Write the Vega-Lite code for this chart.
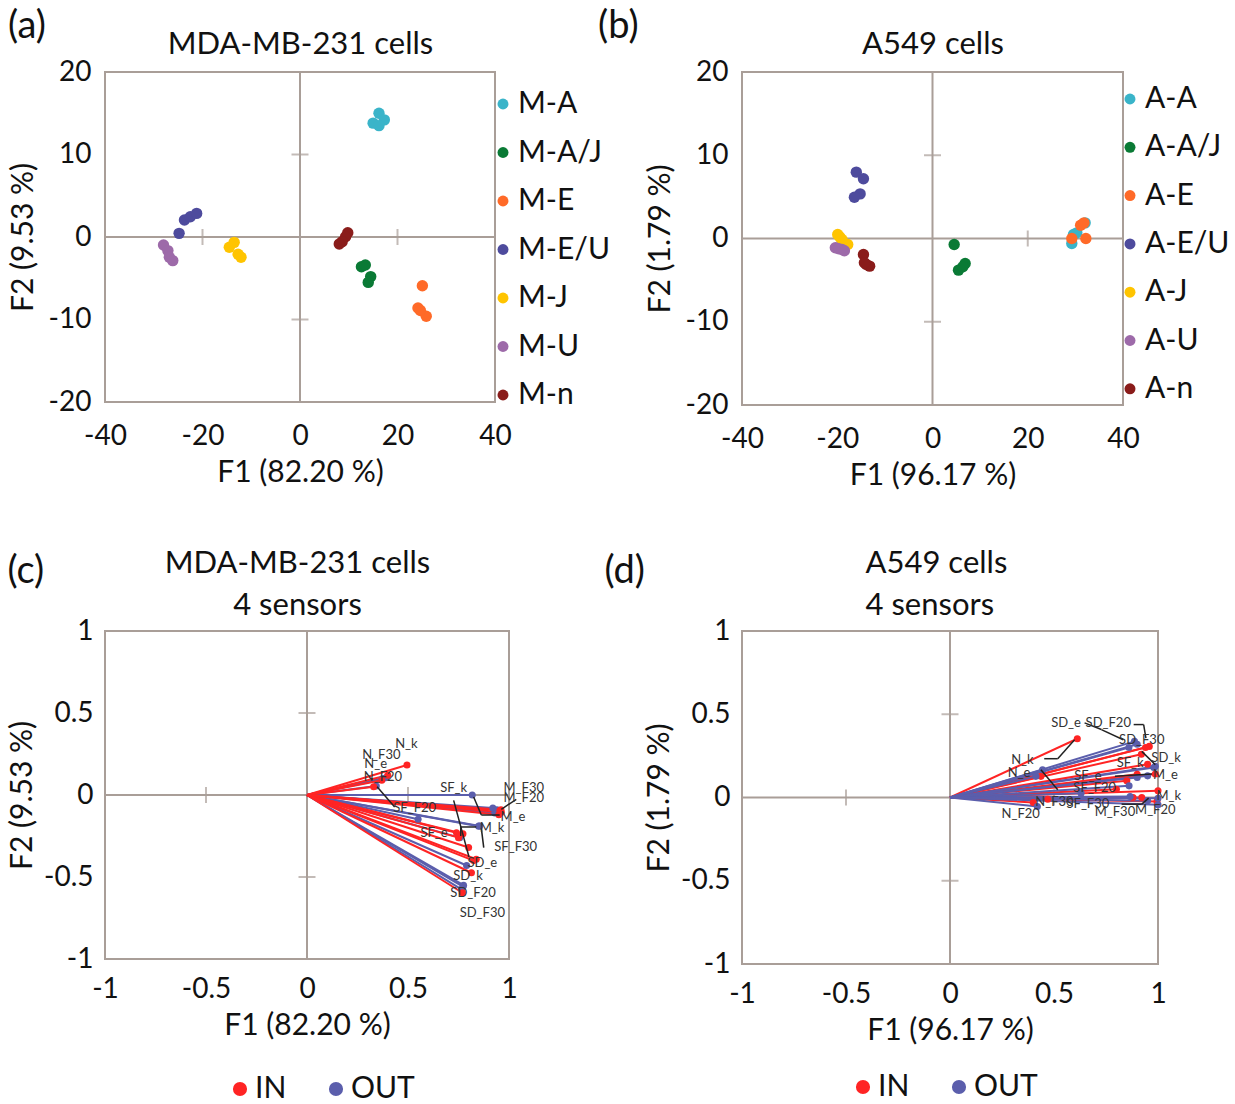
{
  "$schema": "https://vega.github.io/schema/vega-lite/v6.json",
  "background": "white",
  "padding": {"left": 6, "top": 7, "right": 0, "bottom": 0},
  "config": {
    "font": "Lato",
    "view": {"stroke": "#a99e98", "strokeWidth": 2},
    "axis": {"grid": false, "domain": false, "ticks": false, "labelFontSize": 28, "labelColor": "#111", "titleFontSize": 30, "titleFontWeight": "normal", "titleColor": "#111", "labelFlush": false, "labelOverlap": false},
    "title": {"fontSize": 38, "fontWeight": "normal", "anchor": "start", "frame": "bounds", "color": "#111"},
    "legend": {"labelFontSize": 30, "labelColor": "#111", "symbolType": "circle", "padding": 0}
  },
  "datasets": {
    "a": [
      {"group": "M-A", "F1": 16.2, "F2": 15.0}, {"group": "M-A", "F1": 17.3, "F2": 14.2}, {"group": "M-A", "F1": 15.0, "F2": 13.8}, {"group": "M-A", "F1": 16.2, "F2": 13.5},
      {"group": "M-A/J", "F1": 12.6, "F2": -3.6}, {"group": "M-A/J", "F1": 13.4, "F2": -3.4}, {"group": "M-A/J", "F1": 14.5, "F2": -4.8}, {"group": "M-A/J", "F1": 14.0, "F2": -5.5},
      {"group": "M-E", "F1": 25.1, "F2": -5.9}, {"group": "M-E", "F1": 24.2, "F2": -8.6}, {"group": "M-E", "F1": 25.9, "F2": -9.6}, {"group": "M-E", "F1": 24.7, "F2": -8.9},
      {"group": "M-E/U", "F1": -24.8, "F2": 0.44}, {"group": "M-E/U", "F1": -23.7, "F2": 2.06}, {"group": "M-E/U", "F1": -22.5, "F2": 2.46}, {"group": "M-E/U", "F1": -21.2, "F2": 2.86},
      {"group": "M-J", "F1": -13.5, "F2": -0.65}, {"group": "M-J", "F1": -14.5, "F2": -1.25}, {"group": "M-J", "F1": -12.7, "F2": -2.1}, {"group": "M-J", "F1": -12.1, "F2": -2.46},
      {"group": "M-U", "F1": -28.0, "F2": -0.97}, {"group": "M-U", "F1": -27.1, "F2": -1.65}, {"group": "M-U", "F1": -26.8, "F2": -2.46}, {"group": "M-U", "F1": -26.1, "F2": -2.86},
      {"group": "M-n", "F1": 9.8, "F2": 0.52}, {"group": "M-n", "F1": 9.35, "F2": 0.04}, {"group": "M-n", "F1": 8.66, "F2": -0.56}, {"group": "M-n", "F1": 8.05, "F2": -0.85}
    ],
    "b": [
      {"group": "A-A", "F1": 32.05, "F2": 1.88}, {"group": "A-A", "F1": 29.6, "F2": 0.48}, {"group": "A-A", "F1": 29.25, "F2": -0.6}, {"group": "A-A", "F1": 30.3, "F2": 0.68},
      {"group": "A-A/J", "F1": 4.55, "F2": -0.72}, {"group": "A-A/J", "F1": 6.86, "F2": -3.0}, {"group": "A-A/J", "F1": 5.46, "F2": -3.8}, {"group": "A-A/J", "F1": 6.37, "F2": -3.4},
      {"group": "A-E", "F1": 31.1, "F2": 1.6}, {"group": "A-E", "F1": 31.8, "F2": 1.88}, {"group": "A-E", "F1": 32.2, "F2": 0.0}, {"group": "A-E", "F1": 29.25, "F2": 0.0},
      {"group": "A-E/U", "F1": -16.0, "F2": 7.97}, {"group": "A-E/U", "F1": -14.5, "F2": 7.17}, {"group": "A-E/U", "F1": -15.2, "F2": 5.36}, {"group": "A-E/U", "F1": -16.4, "F2": 4.96},
      {"group": "A-J", "F1": -19.9, "F2": 0.48}, {"group": "A-J", "F1": -17.8, "F2": -0.72}, {"group": "A-J", "F1": -19.0, "F2": -0.12}, {"group": "A-J", "F1": -19.5, "F2": 0.2},
      {"group": "A-U", "F1": -20.4, "F2": -1.12}, {"group": "A-U", "F1": -19.0, "F2": -1.32}, {"group": "A-U", "F1": -19.7, "F2": -1.24}, {"group": "A-U", "F1": -18.5, "F2": -1.48},
      {"group": "A-n", "F1": -14.5, "F2": -1.92}, {"group": "A-n", "F1": -13.9, "F2": -3.12}, {"group": "A-n", "F1": -13.2, "F2": -3.32}, {"group": "A-n", "F1": -14.3, "F2": -2.92}
    ],
    "cvec": [
      {"set": "OUT", "var": "N_k", "F1": 0.39, "F2": 0.105}, {"set": "OUT", "var": "N_e", "F1": 0.376, "F2": 0.1}, {"set": "OUT", "var": "N_F20", "F1": 0.343, "F2": 0.055}, {"set": "OUT", "var": "N_F30", "F1": 0.37, "F2": 0.095},
      {"set": "OUT", "var": "SF_k", "F1": 0.818, "F2": 0.0}, {"set": "OUT", "var": "SF_e", "F1": 0.756, "F2": -0.26}, {"set": "OUT", "var": "SF_F20", "F1": 0.55, "F2": -0.148}, {"set": "OUT", "var": "SF_F30", "F1": 0.85, "F2": -0.19},
      {"set": "OUT", "var": "SD_k", "F1": 0.775, "F2": -0.55}, {"set": "OUT", "var": "SD_e", "F1": 0.79, "F2": -0.43}, {"set": "OUT", "var": "SD_F20", "F1": 0.772, "F2": -0.559}, {"set": "OUT", "var": "SD_F30", "F1": 0.765, "F2": -0.575},
      {"set": "OUT", "var": "M_k", "F1": 0.855, "F2": -0.189}, {"set": "OUT", "var": "M_e", "F1": 0.93, "F2": -0.11}, {"set": "OUT", "var": "M_F20", "F1": 0.92, "F2": -0.08}, {"set": "OUT", "var": "M_F30", "F1": 0.94, "F2": -0.09},
      {"set": "IN", "var": "N_k", "F1": 0.495, "F2": 0.183}, {"set": "IN", "var": "N_e", "F1": 0.37, "F2": 0.09}, {"set": "IN", "var": "N_F20", "F1": 0.33, "F2": 0.05}, {"set": "IN", "var": "N_F30", "F1": 0.4, "F2": 0.12},
      {"set": "IN", "var": "SF_k", "F1": 0.74, "F2": -0.23}, {"set": "IN", "var": "SF_e", "F1": 0.772, "F2": -0.236}, {"set": "IN", "var": "SF_F20", "F1": 0.75, "F2": -0.26}, {"set": "IN", "var": "SF_F30", "F1": 0.8, "F2": -0.32},
      {"set": "IN", "var": "SD_k", "F1": 0.814, "F2": -0.474}, {"set": "IN", "var": "SD_e", "F1": 0.838, "F2": -0.392}, {"set": "IN", "var": "SD_F20", "F1": 0.769, "F2": -0.596}, {"set": "IN", "var": "SD_F30", "F1": 0.825, "F2": -0.4},
      {"set": "IN", "var": "M_k", "F1": 0.95, "F2": -0.12}, {"set": "IN", "var": "M_e", "F1": 0.962, "F2": -0.105}, {"set": "IN", "var": "M_F20", "F1": 0.955, "F2": -0.095}, {"set": "IN", "var": "M_F30", "F1": 0.96, "F2": -0.09}
    ],
    "clab": [
      {"label": "N_k", "F1": 0.492, "F2": 0.313}, {"label": "N_F30", "F1": 0.368, "F2": 0.242}, {"label": "N_e", "F1": 0.34, "F2": 0.191}, {"label": "N_F20", "F1": 0.376, "F2": 0.11},
      {"label": "SF_k", "F1": 0.726, "F2": 0.045}, {"label": "M_F30", "F1": 1.073, "F2": 0.045}, {"label": "M_F20", "F1": 1.073, "F2": -0.02}, {"label": "SF_F20", "F1": 0.533, "F2": -0.081},
      {"label": "M_e", "F1": 1.02, "F2": -0.132}, {"label": "M_k", "F1": 0.916, "F2": -0.199}, {"label": "SF_e", "F1": 0.629, "F2": -0.234}, {"label": "SF_F30", "F1": 1.033, "F2": -0.315},
      {"label": "SD_e", "F1": 0.868, "F2": -0.413}, {"label": "SD_k", "F1": 0.797, "F2": -0.494}, {"label": "SD_F20", "F1": 0.822, "F2": -0.596}, {"label": "SD_F30", "F1": 0.868, "F2": -0.717}
    ],
    "cldr": [
      {"x1": 0.347, "y1": 0.051, "x2": 0.434, "y2": -0.073},
      {"x1": 0.726, "y1": -0.033, "x2": 0.802, "y2": -0.378},
      {"x1": 0.761, "y1": -0.195, "x2": 0.838, "y2": -0.195},
      {"x1": 0.761, "y1": -0.195, "x2": 0.761, "y2": -0.25},
      {"x1": 0.863, "y1": -0.203, "x2": 0.875, "y2": -0.321},
      {"x1": 0.825, "y1": -0.012, "x2": 0.863, "y2": -0.122},
      {"x1": 0.863, "y1": -0.122, "x2": 0.954, "y2": -0.122},
      {"x1": 0.962, "y1": -0.087, "x2": 1.036, "y2": -0.026}
    ],
    "dvec": [
      {"set": "IN", "var": "N_k", "F1": 0.612, "F2": 0.353}, {"set": "IN", "var": "N_e", "F1": 0.437, "F2": 0.127}, {"set": "IN", "var": "N_F20", "F1": 0.4, "F2": -0.03}, {"set": "IN", "var": "N_F30", "F1": 0.47, "F2": -0.01},
      {"set": "IN", "var": "SF_k", "F1": 0.9, "F2": 0.14}, {"set": "IN", "var": "SF_e", "F1": 0.85, "F2": 0.1}, {"set": "IN", "var": "SF_F20", "F1": 0.8, "F2": 0.05}, {"set": "IN", "var": "SF_F30", "F1": 0.88, "F2": 0.0},
      {"set": "IN", "var": "SD_k", "F1": 0.95, "F2": 0.2}, {"set": "IN", "var": "SD_e", "F1": 0.958, "F2": 0.307}, {"set": "IN", "var": "SD_F20", "F1": 0.92, "F2": 0.26}, {"set": "IN", "var": "SD_F30", "F1": 0.94, "F2": 0.3},
      {"set": "IN", "var": "M_k", "F1": 1.0, "F2": 0.04}, {"set": "IN", "var": "M_e", "F1": 0.987, "F2": 0.141}, {"set": "IN", "var": "M_F20", "F1": 0.995, "F2": -0.024}, {"set": "IN", "var": "M_F30", "F1": 0.922, "F2": 0.0},
      {"set": "OUT", "var": "N_k", "F1": 0.445, "F2": 0.167}, {"set": "OUT", "var": "N_e", "F1": 0.413, "F2": 0.127}, {"set": "OUT", "var": "N_F20", "F1": 0.42, "F2": -0.054}, {"set": "OUT", "var": "N_F30", "F1": 0.63, "F2": 0.026},
      {"set": "OUT", "var": "SF_k", "F1": 0.987, "F2": 0.187}, {"set": "OUT", "var": "SF_e", "F1": 0.9, "F2": 0.12}, {"set": "OUT", "var": "SF_F20", "F1": 0.861, "F2": 0.07}, {"set": "OUT", "var": "SF_F30", "F1": 0.866, "F2": 0.006},
      {"set": "OUT", "var": "SD_k", "F1": 0.98, "F2": 0.18}, {"set": "OUT", "var": "SD_e", "F1": 0.86, "F2": 0.3}, {"set": "OUT", "var": "SD_F20", "F1": 0.887, "F2": 0.337}, {"set": "OUT", "var": "SD_F30", "F1": 0.9, "F2": 0.32},
      {"set": "OUT", "var": "M_k", "F1": 1.0, "F2": -0.004}, {"set": "OUT", "var": "M_e", "F1": 0.95, "F2": 0.13}, {"set": "OUT", "var": "M_F20", "F1": 1.0, "F2": -0.044}, {"set": "OUT", "var": "M_F30", "F1": 0.95, "F2": -0.02}
    ],
    "dlab": [
      {"label": "SD_e", "F1": 0.558, "F2": 0.448}, {"label": "SD_F20", "F1": 0.761, "F2": 0.448}, {"label": "SD_F30", "F1": 0.922, "F2": 0.343}, {"label": "N_k", "F1": 0.348, "F2": 0.227},
      {"label": "SF_k", "F1": 0.866, "F2": 0.207}, {"label": "SD_k", "F1": 1.039, "F2": 0.237}, {"label": "N_e", "F1": 0.332, "F2": 0.147}, {"label": "SF_e", "F1": 0.663, "F2": 0.127},
      {"label": "M_e", "F1": 1.036, "F2": 0.137}, {"label": "SF_F20", "F1": 0.696, "F2": 0.06}, {"label": "M_k", "F1": 1.052, "F2": 0.012}, {"label": "N_F30", "F1": 0.502, "F2": -0.028},
      {"label": "SF_F30", "F1": 0.663, "F2": -0.04}, {"label": "M_F30", "F1": 0.793, "F2": -0.088}, {"label": "M_F20", "F1": 0.987, "F2": -0.074}, {"label": "N_F20", "F1": 0.34, "F2": -0.1}
    ],
    "dldr": [
      {"x1": 0.647, "y1": 0.448, "x2": 0.728, "y2": 0.408},
      {"x1": 0.728, "y1": 0.408, "x2": 0.833, "y2": 0.347},
      {"x1": 0.883, "y1": 0.438, "x2": 0.931, "y2": 0.438},
      {"x1": 0.931, "y1": 0.438, "x2": 0.942, "y2": 0.357},
      {"x1": 0.453, "y1": 0.233, "x2": 0.518, "y2": 0.233},
      {"x1": 0.518, "y1": 0.233, "x2": 0.599, "y2": 0.347},
      {"x1": 0.437, "y1": 0.167, "x2": 0.518, "y2": 0.046},
      {"x1": 0.922, "y1": 0.277, "x2": 0.987, "y2": 0.197},
      {"x1": 0.793, "y1": 0.127, "x2": 0.971, "y2": 0.141},
      {"x1": 0.825, "y1": -0.04, "x2": 0.922, "y2": -0.04},
      {"x1": 0.922, "y1": -0.04, "x2": 0.955, "y2": -0.004}
    ]
  },
  "columns": 2,
  "align": "each",
  "bounds": "flush",
  "spacing": {"row": 226, "column": 233},
  "resolve": {"scale": {"color": "independent", "stroke": "independent"}, "legend": {"color": "independent", "stroke": "independent"}},
  "concat": [
    {
      "width": 390, "height": 330,
      "title": {"text": "(a)", "dy": 22},
      "resolve": {"axis": {"x": "independent", "y": "independent"}},
      "layer": [
        {"data": {"values": [{"z": 0}]}, "mark": {"type": "rule", "color": "#a99e98", "strokeWidth": 2},
         "encoding": {"x": {"field": "z", "type": "quantitative", "scale": {"domain": [-40, 40]}, "axis": {"title": "F1 (82.20 %)", "values": [-40, -20, 0, 20, 40], "labelExpr": "'' + datum.value", "labelPadding": 20, "titlePadding": 7}}}},
        {"data": {"values": [{"z": 0}]}, "mark": {"type": "rule", "color": "#a99e98", "strokeWidth": 2},
         "encoding": {"y": {"field": "z", "type": "quantitative", "scale": {"domain": [-20, 20]}, "axis": {"title": "F2 (9.53 %)", "values": [-20, -10, 0, 10, 20], "labelExpr": "'' + datum.value", "labelPadding": 14, "titlePadding": 10}}}},
        {"data": {"values": [{"v": -20, "z": 0}, {"v": 20, "z": 0}]}, "mark": {"type": "tick", "orient": "vertical", "color": "#a99e98", "size": 16, "thickness": 2},
         "encoding": {"x": {"field": "v", "type": "quantitative", "scale": {"domain": [-40, 40]}, "axis": null}, "y": {"field": "z", "type": "quantitative", "scale": {"domain": [-20, 20]}, "axis": null}}},
        {"data": {"values": [{"v": -10, "z": 0}, {"v": 10, "z": 0}]}, "mark": {"type": "tick", "orient": "horizontal", "color": "#a99e98", "size": 17, "thickness": 2},
         "encoding": {"y": {"field": "v", "type": "quantitative", "scale": {"domain": [-20, 20]}, "axis": null}, "x": {"field": "z", "type": "quantitative", "scale": {"domain": [-40, 40]}, "axis": null}}},
        {"data": {"name": "a"}, "mark": {"type": "circle", "size": 130, "opacity": 1},
         "encoding": {
           "x": {"field": "F1", "type": "quantitative", "scale": {"domain": [-40, 40]}, "axis": {"orient": "top", "title": "MDA-MB-231 cells", "labels": false, "titleFontSize": 31, "titlePadding": 12}},
           "y": {"field": "F2", "type": "quantitative", "scale": {"domain": [-20, 20]}, "axis": null},
           "color": {"field": "group", "type": "nominal",
             "scale": {"domain": ["M-A", "M-A/J", "M-E", "M-E/U", "M-J", "M-U", "M-n"], "range": ["#3ab4c9", "#0a7a35", "#ff6a28", "#4e4b9d", "#ffc400", "#9d6aa9", "#8a1c1a"]},
             "legend": {"title": null, "orient": "none", "legendX": 383, "legendY": 17, "symbolSize": 120, "rowPadding": 18.5, "labelOffset": 0}}
         }}
      ]
    },
    {
      "width": 381, "height": 333,
      "title": {"text": "(b)", "dy": 22, "dx": -47},
      "resolve": {"axis": {"x": "independent", "y": "independent"}},
      "layer": [
        {"data": {"values": [{"z": 0}]}, "mark": {"type": "rule", "color": "#a99e98", "strokeWidth": 2},
         "encoding": {"x": {"field": "z", "type": "quantitative", "scale": {"domain": [-40, 40]}, "axis": {"title": "F1 (96.17 %)", "values": [-40, -20, 0, 20, 40], "labelExpr": "'' + datum.value", "labelPadding": 20, "titlePadding": 7}}}},
        {"data": {"values": [{"z": 0}]}, "mark": {"type": "rule", "color": "#a99e98", "strokeWidth": 2},
         "encoding": {"y": {"field": "z", "type": "quantitative", "scale": {"domain": [-20, 20]}, "axis": {"title": "F2 (1.79 %)", "values": [-20, -10, 0, 10, 20], "labelExpr": "'' + datum.value", "labelPadding": 14, "titlePadding": 10}}}},
        {"data": {"values": [{"v": -20, "z": 0}, {"v": 20, "z": 0}]}, "mark": {"type": "tick", "orient": "vertical", "color": "#a99e98", "size": 16, "thickness": 2},
         "encoding": {"x": {"field": "v", "type": "quantitative", "scale": {"domain": [-40, 40]}, "axis": null}, "y": {"field": "z", "type": "quantitative", "scale": {"domain": [-20, 20]}, "axis": null}}},
        {"data": {"values": [{"v": -10, "z": 0}, {"v": 10, "z": 0}]}, "mark": {"type": "tick", "orient": "horizontal", "color": "#a99e98", "size": 17, "thickness": 2},
         "encoding": {"y": {"field": "v", "type": "quantitative", "scale": {"domain": [-20, 20]}, "axis": null}, "x": {"field": "z", "type": "quantitative", "scale": {"domain": [-40, 40]}, "axis": null}}},
        {"data": {"name": "b"}, "mark": {"type": "circle", "size": 130, "opacity": 1},
         "encoding": {
           "x": {"field": "F1", "type": "quantitative", "scale": {"domain": [-40, 40]}, "axis": {"orient": "top", "title": "A549 cells", "labels": false, "titleFontSize": 31, "titlePadding": 12}},
           "y": {"field": "F2", "type": "quantitative", "scale": {"domain": [-20, 20]}, "axis": null},
           "color": {"field": "group", "type": "nominal",
             "scale": {"domain": ["A-A", "A-A/J", "A-E", "A-E/U", "A-J", "A-U", "A-n"], "range": ["#3ab4c9", "#0a7a35", "#ff6a28", "#4e4b9d", "#ffc400", "#9d6aa9", "#8a1c1a"]},
             "legend": {"title": null, "orient": "none", "legendX": 373, "legendY": 12, "symbolSize": 120, "rowPadding": 18.3, "labelOffset": 0}}
         }}
      ]
    },
    {
      "width": 404, "height": 328,
      "title": {"text": "(c)", "dy": 48},
      "resolve": {"axis": {"x": "independent", "y": "independent"}},
      "layer": [
        {"data": {"values": [{"z": 0}]}, "mark": {"type": "rule", "color": "#a99e98", "strokeWidth": 2},
         "encoding": {"x": {"field": "z", "type": "quantitative", "scale": {"domain": [-1, 1]}, "axis": {"title": "F1 (82.20 %)", "values": [-1, -0.5, 0, 0.5, 1], "labelExpr": "'' + datum.value", "labelPadding": 16, "titlePadding": 7}}}},
        {"data": {"values": [{"z": 0}]}, "mark": {"type": "rule", "color": "#a99e98", "strokeWidth": 2},
         "encoding": {"y": {"field": "z", "type": "quantitative", "scale": {"domain": [-1, 1]}, "axis": {"title": "F2 (9.53 %)", "values": [-1, -0.5, 0, 0.5, 1], "labelExpr": "'' + datum.value", "labelPadding": 12, "titlePadding": 6}}}},
        {"data": {"values": [{"v": -0.5, "z": 0}, {"v": 0.5, "z": 0}]}, "mark": {"type": "tick", "orient": "vertical", "color": "#a99e98", "size": 16, "thickness": 2},
         "encoding": {"x": {"field": "v", "type": "quantitative", "scale": {"domain": [-1, 1]}, "axis": null}, "y": {"field": "z", "type": "quantitative", "scale": {"domain": [-1, 1]}, "axis": null}}},
        {"data": {"values": [{"v": -0.5, "z": 0}, {"v": 0.5, "z": 0}]}, "mark": {"type": "tick", "orient": "horizontal", "color": "#a99e98", "size": 17, "thickness": 2},
         "encoding": {"y": {"field": "v", "type": "quantitative", "scale": {"domain": [-1, 1]}, "axis": null}, "x": {"field": "z", "type": "quantitative", "scale": {"domain": [-1, 1]}, "axis": null}}},
        {"data": {"name": "cvec"}, "mark": {"type": "rule", "strokeWidth": 2},
         "encoding": {
           "x": {"field": "F1", "type": "quantitative", "scale": {"domain": [-1, 1]}, "axis": null},
           "y": {"field": "F2", "type": "quantitative", "scale": {"domain": [-1, 1]}, "axis": null},
           "x2": {"datum": 0}, "y2": {"datum": 0},
           "stroke": {"field": "set", "type": "nominal", "scale": {"domain": ["OUT", "IN"], "range": ["#5b5eac", "#ff2424"]}, "legend": null}
         }},
        {"data": {"name": "cvec"}, "mark": {"type": "circle", "size": 50, "opacity": 1},
         "encoding": {
           "x": {"field": "F1", "type": "quantitative", "scale": {"domain": [-1, 1]}, "axis": {"orient": "top", "title": ["MDA-MB-231 cells", "4 sensors"], "labels": false, "titleFontSize": 31, "titleLineHeight": 42, "titlePadding": 10, "titleX": 192, "titleAlign": "center"}},
           "y": {"field": "F2", "type": "quantitative", "scale": {"domain": [-1, 1]}, "axis": null},
           "color": {"field": "set", "type": "nominal", "scale": {"domain": ["IN", "OUT"], "range": ["#ff2424", "#5b5eac"]},
             "legend": {"title": null, "orient": "none", "direction": "horizontal", "legendX": 120, "legendY": 443, "symbolSize": 200, "labelOffset": 0, "columnPadding": 34}}
         }},
        {"data": {"name": "cldr"}, "mark": {"type": "rule", "color": "#222", "strokeWidth": 1.5},
         "encoding": {
           "x": {"field": "x1", "type": "quantitative", "scale": {"domain": [-1, 1]}, "axis": null},
           "y": {"field": "y1", "type": "quantitative", "scale": {"domain": [-1, 1]}, "axis": null},
           "x2": {"field": "x2"}, "y2": {"field": "y2"}
         }},
        {"data": {"name": "clab"}, "mark": {"type": "text", "fontSize": 13, "color": "#333"},
         "encoding": {
           "x": {"field": "F1", "type": "quantitative", "scale": {"domain": [-1, 1]}, "axis": null},
           "y": {"field": "F2", "type": "quantitative", "scale": {"domain": [-1, 1]}, "axis": null},
           "text": {"field": "label"}
         }}
      ]
    },
    {
      "width": 416, "height": 333,
      "title": {"text": "(d)", "dy": 48, "dx": -40},
      "resolve": {"axis": {"x": "independent", "y": "independent"}},
      "layer": [
        {"data": {"values": [{"z": 0}]}, "mark": {"type": "rule", "color": "#a99e98", "strokeWidth": 2},
         "encoding": {"x": {"field": "z", "type": "quantitative", "scale": {"domain": [-1, 1]}, "axis": {"title": "F1 (96.17 %)", "values": [-1, -0.5, 0, 0.5, 1], "labelExpr": "'' + datum.value", "labelPadding": 16, "titlePadding": 7}}}},
        {"data": {"values": [{"z": 0}]}, "mark": {"type": "rule", "color": "#a99e98", "strokeWidth": 2},
         "encoding": {"y": {"field": "z", "type": "quantitative", "scale": {"domain": [-1, 1]}, "axis": {"title": "F2 (1.79 %)", "values": [-1, -0.5, 0, 0.5, 1], "labelExpr": "'' + datum.value", "labelPadding": 12, "titlePadding": 6}}}},
        {"data": {"values": [{"v": -0.5, "z": 0}, {"v": 0.5, "z": 0}]}, "mark": {"type": "tick", "orient": "vertical", "color": "#a99e98", "size": 16, "thickness": 2},
         "encoding": {"x": {"field": "v", "type": "quantitative", "scale": {"domain": [-1, 1]}, "axis": null}, "y": {"field": "z", "type": "quantitative", "scale": {"domain": [-1, 1]}, "axis": null}}},
        {"data": {"values": [{"v": -0.5, "z": 0}, {"v": 0.5, "z": 0}]}, "mark": {"type": "tick", "orient": "horizontal", "color": "#a99e98", "size": 17, "thickness": 2},
         "encoding": {"y": {"field": "v", "type": "quantitative", "scale": {"domain": [-1, 1]}, "axis": null}, "x": {"field": "z", "type": "quantitative", "scale": {"domain": [-1, 1]}, "axis": null}}},
        {"data": {"name": "dvec"}, "mark": {"type": "rule", "strokeWidth": 2},
         "encoding": {
           "x": {"field": "F1", "type": "quantitative", "scale": {"domain": [-1, 1]}, "axis": null},
           "y": {"field": "F2", "type": "quantitative", "scale": {"domain": [-1, 1]}, "axis": null},
           "x2": {"datum": 0}, "y2": {"datum": 0},
           "stroke": {"field": "set", "type": "nominal", "scale": {"domain": ["OUT", "IN"], "range": ["#5b5eac", "#ff2424"]}, "legend": null}
         }},
        {"data": {"name": "dvec"}, "mark": {"type": "circle", "size": 50, "opacity": 1},
         "encoding": {
           "x": {"field": "F1", "type": "quantitative", "scale": {"domain": [-1, 1]}, "axis": {"orient": "top", "title": ["A549 cells", "4 sensors"], "labels": false, "titleFontSize": 31, "titleLineHeight": 42, "titlePadding": 10, "titleX": 123, "titleAlign": "left"}},
           "y": {"field": "F2", "type": "quantitative", "scale": {"domain": [-1, 1]}, "axis": null},
           "color": {"field": "set", "type": "nominal", "scale": {"domain": ["IN", "OUT"], "range": ["#ff2424", "#5b5eac"]},
             "legend": {"title": null, "orient": "none", "direction": "horizontal", "legendX": 106, "legendY": 441, "symbolSize": 200, "labelOffset": 0, "columnPadding": 34}}
         }},
        {"data": {"name": "dldr"}, "mark": {"type": "rule", "color": "#222", "strokeWidth": 1.5},
         "encoding": {
           "x": {"field": "x1", "type": "quantitative", "scale": {"domain": [-1, 1]}, "axis": null},
           "y": {"field": "y1", "type": "quantitative", "scale": {"domain": [-1, 1]}, "axis": null},
           "x2": {"field": "x2"}, "y2": {"field": "y2"}
         }},
        {"data": {"name": "dlab"}, "mark": {"type": "text", "fontSize": 13, "color": "#333"},
         "encoding": {
           "x": {"field": "F1", "type": "quantitative", "scale": {"domain": [-1, 1]}, "axis": null},
           "y": {"field": "F2", "type": "quantitative", "scale": {"domain": [-1, 1]}, "axis": null},
           "text": {"field": "label"}
         }}
      ]
    }
  ]
}
